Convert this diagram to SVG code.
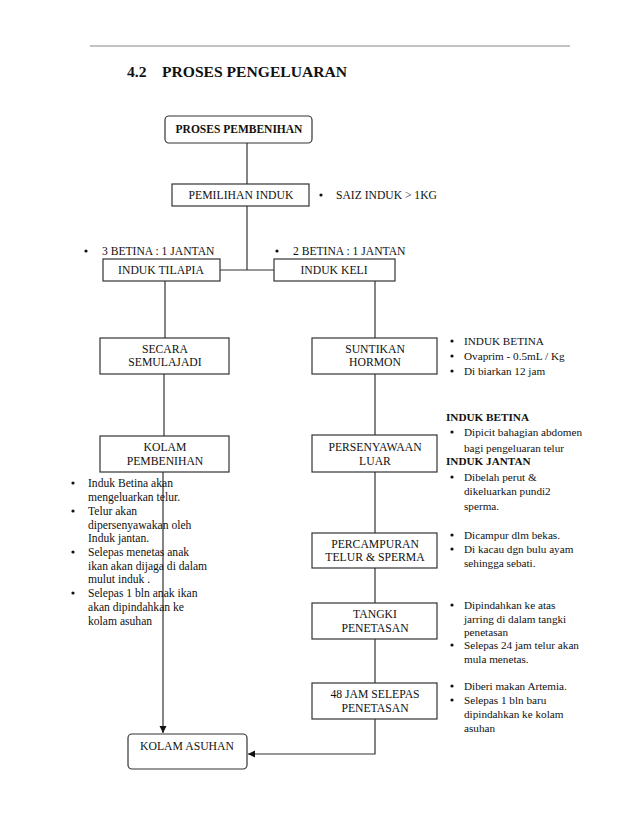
<svg xmlns="http://www.w3.org/2000/svg" width="638" height="826" viewBox="0 0 638 826">
<style>
text{font-family:"Liberation Serif","Times New Roman","DejaVu Serif",serif;font-size:11.2px;fill:#111}
.c{text-anchor:middle;font-size:11.7px}
.l{font-size:11.6px}
.b{font-weight:bold}
.box{fill:#fff;stroke:#333;stroke-width:1.2}
.ln{stroke:#333;stroke-width:1.2;fill:none}
</style>
<defs>
<marker id="ah" markerWidth="8" markerHeight="8" refX="7" refY="4" orient="auto" markerUnits="userSpaceOnUse">
<path d="M0,0.5 L7,4 L0,7.5 Z" fill="#111"/>
</marker>
</defs>
<rect width="638" height="826" fill="#fff"/>
<line x1="90" y1="46" x2="570" y2="46" stroke="#888" stroke-width="1.2"/>
<text x="127" y="77" class="b" style="font-size:15.6px">4.2</text>
<text x="162" y="77" class="b" style="font-size:15.6px">PROSES PENGELUARAN</text>

<g id="connectors">
<line class="ln" x1="247" y1="143" x2="247" y2="184"/>
<line class="ln" x1="247" y1="206" x2="247" y2="270"/>
<line class="ln" x1="220" y1="270" x2="274" y2="270"/>
<line class="ln" x1="165" y1="281" x2="165" y2="338"/>
<line class="ln" x1="164" y1="374" x2="164" y2="436"/>
<line class="ln" x1="163" y1="472" x2="163" y2="733" marker-end="url(#ah)"/>
<line class="ln" x1="375" y1="281" x2="375" y2="338"/>
<line class="ln" x1="375" y1="374" x2="375" y2="435"/>
<line class="ln" x1="375" y1="472" x2="375" y2="533"/>
<line class="ln" x1="375" y1="568" x2="375" y2="603"/>
<line class="ln" x1="375" y1="639" x2="375" y2="683"/>
<polyline class="ln" points="375,719 375,754 248,754" marker-end="url(#ah)"/>
</g>

<g id="proses-pembenihan">
<rect class="box" x="165" y="116" width="147" height="27" rx="4"/>
<text x="239" y="133" class="c b" style="font-size:11.5px">PROSES PEMBENIHAN</text>
</g>
<g id="pemilihan-induk">
<rect class="box" x="172" y="184" width="137" height="22"/>
<text x="241" y="199" class="c">PEMILIHAN INDUK</text>
<circle cx="321" cy="195" r="1.6" fill="#111"/>
<text x="336" y="199" class="l">SAIZ INDUK &gt; 1KG</text>
</g>
<g id="induk-tilapia">
<rect class="box" x="103" y="259" width="117" height="22"/>
<text x="161" y="274" class="c">INDUK TILAPIA</text>
<circle cx="86" cy="251" r="1.6" fill="#111"/>
<text x="102" y="255" class="l">3 BETINA : 1 JANTAN</text>
</g>
<g id="induk-keli">
<rect class="box" x="274" y="259" width="121" height="22"/>
<text x="334" y="274" class="c">INDUK KELI</text>
<circle cx="277" cy="251" r="1.6" fill="#111"/>
<text x="293" y="255" class="l">2 BETINA : 1 JANTAN</text>
</g>
<g id="secara-semulajadi">
<rect class="box" x="100" y="338" width="129" height="36"/>
<text x="165" y="353" class="c">SECARA</text>
<text x="165" y="366" class="c">SEMULAJADI</text>
</g>
<g id="kolam-pembenihan">
<rect class="box" x="100" y="436" width="129" height="36"/>
<text x="165" y="451" class="c">KOLAM</text>
<text x="165" y="465" class="c">PEMBENIHAN</text>
</g>
<g id="kolam-pembenihan-notes" class="l">
<circle cx="73" cy="483" r="1.6" fill="#111"/>
<text x="88" y="487" class="l">Induk Betina akan</text>
<text x="88" y="501" class="l">mengeluarkan telur.</text>
<circle cx="73" cy="511" r="1.6" fill="#111"/>
<text x="88" y="515" class="l">Telur akan</text>
<text x="88" y="529" class="l">dipersenyawakan oleh</text>
<text x="88" y="542" class="l">Induk jantan.</text>
<circle cx="73" cy="552" r="1.6" fill="#111"/>
<text x="88" y="556" class="l">Selepas menetas anak</text>
<text x="88" y="570" class="l">ikan akan dijaga di dalam</text>
<text x="88" y="583" class="l">mulut induk .</text>
<circle cx="73" cy="593" r="1.6" fill="#111"/>
<text x="88" y="597" class="l">Selepas 1 bln anak ikan</text>
<text x="88" y="611" class="l">akan dipindahkan ke</text>
<text x="88" y="625" class="l">kolam asuhan</text>
</g>
<g id="suntikan-hormon">
<rect class="box" x="312" y="338" width="125" height="36"/>
<text x="375" y="353" class="c">SUNTIKAN</text>
<text x="375" y="366" class="c">HORMON</text>
<circle cx="452" cy="341" r="1.6" fill="#111"/>
<text x="464" y="345">INDUK BETINA</text>
<circle cx="452" cy="356" r="1.6" fill="#111"/>
<text x="464" y="360">Ovaprim - 0.5mL  / Kg</text>
<circle cx="452" cy="371" r="1.6" fill="#111"/>
<text x="464" y="375">Di biarkan 12 jam</text>
</g>
<g id="persenyawaan-luar">
<rect class="box" x="312" y="435" width="125" height="37"/>
<text x="375" y="451" class="c">PERSENYAWAAN</text>
<text x="375" y="465" class="c">LUAR</text>
<text x="446" y="421" class="b">INDUK BETINA</text>
<circle cx="452" cy="432" r="1.6" fill="#111"/>
<text x="464" y="436">Dipicit bahagian abdomen</text>
<text x="464" y="452">bagi pengeluaran telur</text>
<text x="446" y="465" class="b">INDUK JANTAN</text>
<circle cx="452" cy="477" r="1.6" fill="#111"/>
<text x="464" y="481">Dibelah perut &amp;</text>
<text x="464" y="495">dikeluarkan pundi2</text>
<text x="464" y="510">sperma.</text>
</g>
<g id="percampuran">
<rect class="box" x="312" y="533" width="125" height="35"/>
<text x="375" y="548" class="c">PERCAMPURAN</text>
<text x="375" y="561" class="c">TELUR &amp; SPERMA</text>
<circle cx="452" cy="535" r="1.6" fill="#111"/>
<text x="464" y="539">Dicampur dlm bekas.</text>
<circle cx="452" cy="549" r="1.6" fill="#111"/>
<text x="464" y="553">Di kacau dgn bulu ayam</text>
<text x="464" y="567">sehingga sebati.</text>
</g>
<g id="tangki-penetasan">
<rect class="box" x="312" y="603" width="125" height="36"/>
<text x="375" y="618" class="c">TANGKI</text>
<text x="375" y="632" class="c">PENETASAN</text>
<circle cx="452" cy="605" r="1.6" fill="#111"/>
<text x="464" y="609">Dipindahkan ke atas</text>
<text x="464" y="623">jarring di dalam tangki</text>
<text x="464" y="636">penetasan</text>
<circle cx="452" cy="645" r="1.6" fill="#111"/>
<text x="464" y="649">Selepas 24 jam telur akan</text>
<text x="464" y="663">mula menetas.</text>
</g>
<g id="48-jam">
<rect class="box" x="312" y="683" width="125" height="36"/>
<text x="375" y="698" class="c">48 JAM SELEPAS</text>
<text x="375" y="712" class="c">PENETASAN</text>
<circle cx="452" cy="686" r="1.6" fill="#111"/>
<text x="464" y="690">Diberi makan Artemia.</text>
<circle cx="452" cy="700" r="1.6" fill="#111"/>
<text x="464" y="704">Selepas 1 bln baru</text>
<text x="464" y="718">dipindahkan ke kolam</text>
<text x="464" y="732">asuhan</text>
</g>
<g id="kolam-asuhan">
<rect class="box" x="128" y="734" width="119" height="35" rx="4"/>
<text x="187" y="750" class="c">KOLAM ASUHAN</text>
</g>
</svg>
